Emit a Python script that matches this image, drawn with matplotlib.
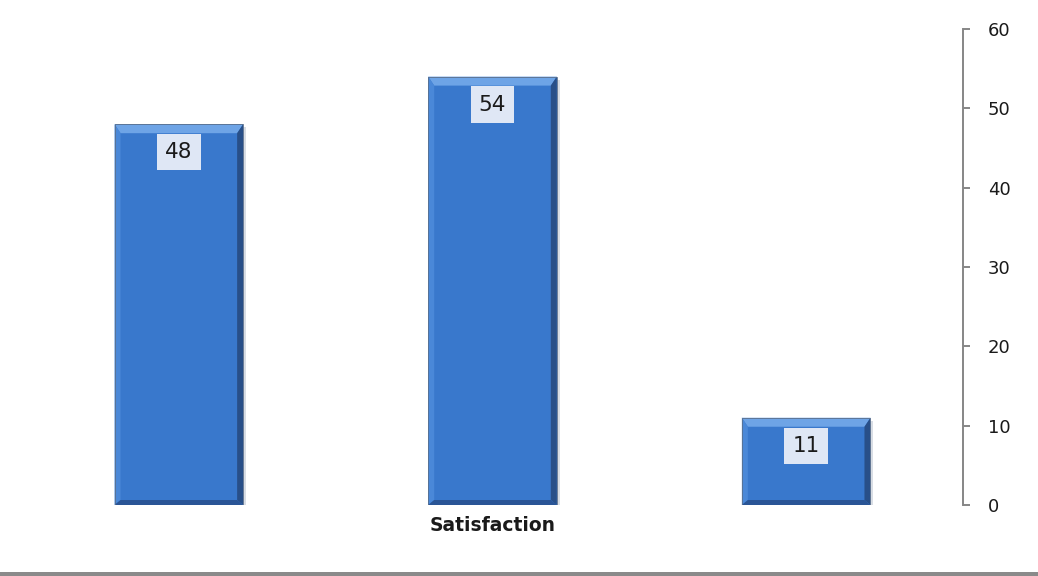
import matplotlib
matplotlib.use("Agg")
import matplotlib.pyplot as plt
from matplotlib.patches import Polygon, Rectangle
from matplotlib.transforms import IdentityTransform

category = "Satisfaction"
series_values = [48, 54, 11]
y_ticks = [0, 10, 20, 30, 40, 50, 60]

W, H = 1038, 576
fig = plt.figure(figsize=(W / 100, H / 100), dpi=100)
fig.patch.set_facecolor("white")
ax = fig.add_axes([22 / W, 71 / H, (963 - 22) / W, (505 - 29) / H])

n = len(series_values)
positions = [i - (n - 1) / 2 for i in range(n)]
bars = ax.bar(positions, series_values, width=0.41, color="#3978cc",
              edgecolor="none", zorder=2)

ax.set_xlim(-1.5, 1.5)
ax.set_ylim(0, 60)
ax.set_yticks(y_ticks)
ax.set_xticks([0])
ax.set_xticklabels([category], fontsize=13.5, fontweight="bold", color="#1a1a1a")
ax.tick_params(axis="x", length=0, pad=8)

ax.yaxis.tick_right()
for s in ["top", "left", "bottom"]:
    ax.spines[s].set_visible(False)
ax.spines["right"].set_color("#868686")
ax.spines["right"].set_linewidth(1.4)
ax.tick_params(axis="y", direction="out", length=5, width=1.4, color="#868686",
               labelsize=13, labelcolor="#1a1a1a", pad=13)

fig.canvas.draw()

# bevel overlays in pixel coordinates
for b in bars:
    x0, y0 = ax.transData.transform((b.get_x(), 0))
    x1, y1 = ax.transData.transform((b.get_x() + b.get_width(), b.get_height()))
    t, l, r, bt = 9, 6, 6, 5
    # shadow
    ax.add_patch(Polygon([(x0 + 3, y0 - 3), (x1 + 3, y0 - 3), (x1 + 3, y1 - 3),
                          (x1, y1 - 3), (x1, y0), (x0 + 3, y0)],
                         closed=True, transform=IdentityTransform(),
                         facecolor="#d8dde4", edgecolor="none", zorder=1))
    polys = [
        ([(x0, y1), (x1, y1), (x1 - r, y1 - t), (x0 + l, y1 - t)], "#6ea4e6"),
        ([(x0, y1), (x0 + l, y1 - t), (x0 + l, y0 + bt), (x0, y0)], "#4a88d8"),
        ([(x1, y1), (x1 - r, y1 - t), (x1 - r, y0 + bt), (x1, y0)], "#284f88"),
        ([(x0, y0), (x0 + l, y0 + bt), (x1 - r, y0 + bt), (x1, y0)], "#2a5596"),
    ]
    for pts, c in polys:
        ax.add_patch(Polygon(pts, closed=True, transform=IdentityTransform(),
                             facecolor=c, edgecolor="none", zorder=3))
    ax.add_patch(Rectangle((x0, y0), x1 - x0, y1 - y0, transform=IdentityTransform(),
                           facecolor="none", edgecolor="#5a6f8c", linewidth=0.6,
                           zorder=4))
    ax.annotate(f"{b.get_height():g}",
                xy=(b.get_x() + b.get_width() / 2, b.get_height()),
                xytext=(0, -28 * 72 / 100), textcoords="offset points",
                ha="center", va="center", fontsize=15.5, color="#1a1a1a", zorder=5,
                bbox=dict(boxstyle="square,pad=0.38", facecolor="#dfe7f5",
                          edgecolor="none"))

fig.add_artist(Rectangle((0, 0), 1, 4 / H, transform=fig.transFigure,
                         facecolor="#8a8a8a", edgecolor="none"))

fig.savefig("out.png", dpi=100, facecolor="white")
